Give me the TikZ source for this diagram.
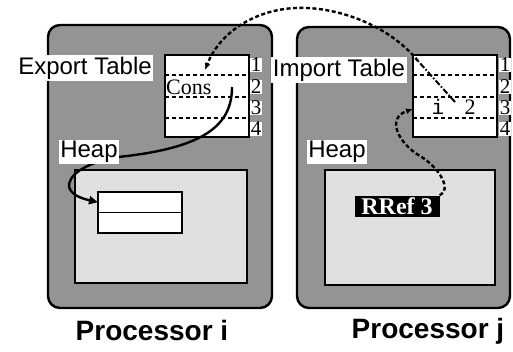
\documentclass[tikz,border=0pt]{standalone}
\usepackage{fontspec}
\setmainfont{Liberation Serif}
\setsansfont{Liberation Sans}
\setmonofont{Liberation Mono}
\usetikzlibrary{arrows.meta}

\begin{document}
\begin{tikzpicture}[x=1pt,y=-1pt,
  panel/.style={draw=black,line width=2.4pt,rounded corners=12pt,fill=black!42,
    anchor=north west,inner sep=0pt,outer sep=0pt},
  heapbox/.style={draw=black,line width=2pt,fill=black!12,
    anchor=north west,inner sep=0pt,outer sep=0pt},
  tablebox/.style={draw=black,line width=2pt,fill=white,
    anchor=north west,inner sep=0pt,outer sep=0pt,minimum width=84pt,minimum height=82pt},
  cellbox/.style={draw=black,line width=1.8pt,fill=white,
    anchor=north west,inner sep=0pt,outer sep=0pt,minimum width=84pt,minimum height=20.5pt},
  rowline/.style={line width=2pt,dash pattern=on 4pt off 3pt},
  lbl/.style={fill=white,inner sep=1.5pt,font=\sffamily\fontsize{24}{24}\selectfont},
  proc/.style={font=\sffamily\bfseries\fontsize{28}{28}\selectfont},
  rownum/.style={fill=white,inner sep=0.3pt,font=\fontsize{21}{21}\selectfont},
  entry/.style={inner sep=0pt,font=\fontsize{22}{22}\selectfont},
  linkdash/.style={line width=2.4pt,dash pattern=on 4pt off 2.5pt},
  linkdashdot/.style={line width=2pt,dash pattern=on 6pt off 2pt on 1.5pt off 2pt},
  ptr/.style={line width=2.4pt,-{Triangle[length=9pt,width=8pt]}}
]
\useasboundingbox (0,0) rectangle (513,351);

% processors
\node[panel,minimum width=224pt,minimum height=283pt] (pi) at (48,25) {};
\node[panel,minimum width=213pt,minimum height=281pt] (pj) at (297,27) {};

% heaps
\node[heapbox,minimum width=172pt,minimum height=113pt] (hi) at (75,170) {};
\node[heapbox,minimum width=170pt,minimum height=115pt] (hj) at (325,170) {};

% export / import tables
\node[tablebox] (et) at (165,55) {};
\node[tablebox] (it) at (413,55) {};
\foreach \t in {et,it}{
  \foreach \d in {20,41.5,63}{
    \draw[rowline] ([yshift=-\d pt]\t.north west) -- ([yshift=-\d pt]\t.north east);
  }
}

% heap object on processor i
\node[cellbox] (oa) at (98,192) {};
\node[cellbox] (ob) at (98,212.5) {};

% remote reference on processor j
\node[fill=black,text=white,inner sep=0.5pt,minimum width=85pt,minimum height=21pt,
  font=\bfseries\fontsize{24}{24}\selectfont] (rref) at (397,206) {RRef 3};

% table entries
\node[entry,anchor=west] (cons) at (166,87) {Cons};
\node[entry,font=\ttfamily\fontsize{21}{21}\selectfont] (ii) at (438,107) {i};
\node[entry] (i2) at (470,107) {2};

% link points
\coordinate (consref) at (232,87);
\coordinate (consin) at (205,70);
\coordinate (impentry) at (455,102);
\coordinate (impbend) at (418,61);
\coordinate (impslot) at (413,109);

% pointer from the export entry to the heap object
\draw[ptr] (consref) .. controls (232,125) and (205,148) .. (118,157)
  .. controls (95,161) and (72,170) .. (69,184)
  .. controls (68,195) and (84,199) .. (oa.west);

% import entry refers back to the export entry
\draw[linkdashdot] (impentry) -- (impbend);
\draw[linkdash,-{Latex[length=7pt,width=6pt]}] (impbend)
  .. controls (388,24) and (335,6) .. (295,8)
  .. controls (255,10) and (220,32) .. (consin);

% remote reference points at its import entry
\draw[linkdash,-{Latex[length=7pt,width=6pt]}] (rref.north east)
  .. controls (452,190) and (440,168) .. (420,156)
  .. controls (398,143) and (386,118) .. (impslot);

% labels
\node[lbl] (etl) at (85,68) {Export Table};
\node[lbl] (itl) at (339,70) {Import Table};
\node[lbl] (hil) at (89,152) {Heap};
\node[lbl] (hjl) at (337,152) {Heap};

% row numbers
\foreach \n/\y in {1/65,2/87,3/108,4/129}{
  \node[rownum] (en\n) at (256,\y) {\n};
  \node[rownum] (in\n) at (505,\y) {\n};
}

% processor names
\node[proc] (pil) at (152,330) {Processor i};
\node[proc] (pjl) at (428,331) {Processor j};
\end{tikzpicture}
\end{document}
